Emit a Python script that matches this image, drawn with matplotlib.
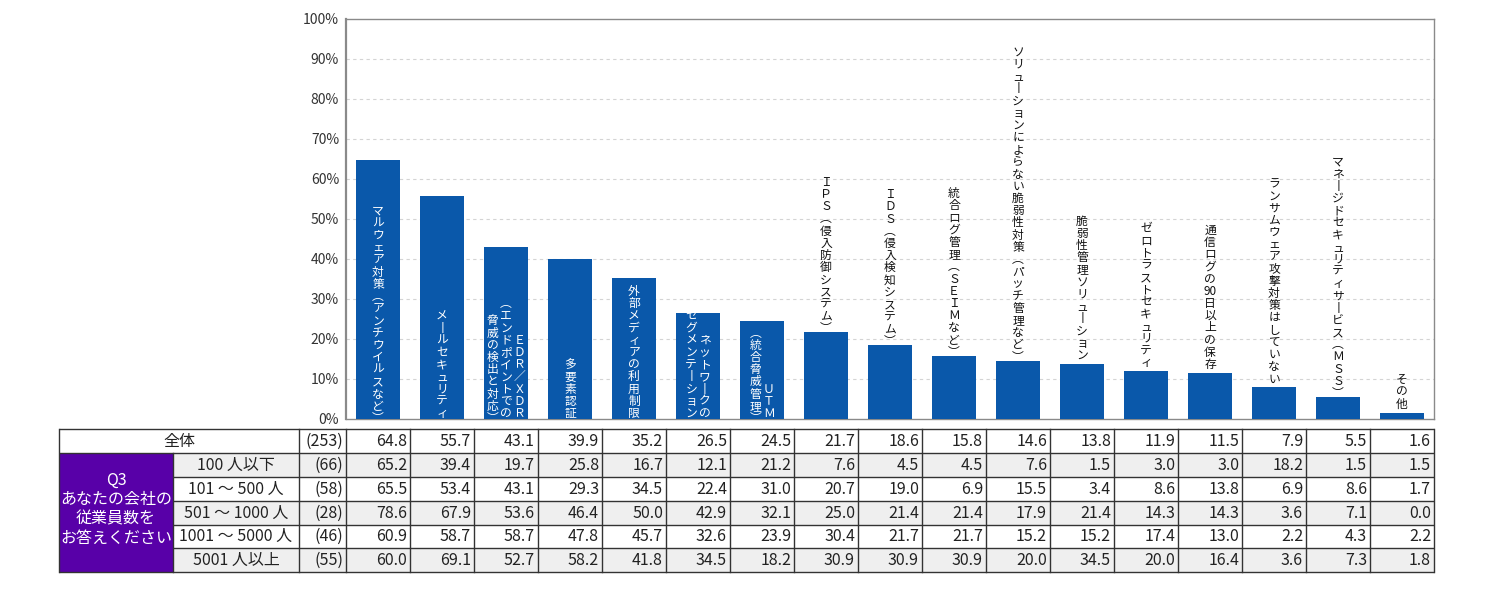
import matplotlib
matplotlib.use("Agg")
import matplotlib.pyplot as plt
from matplotlib.transforms import offset_copy
from matplotlib.patches import Rectangle

plt.rcParams['font.family'] = ['Noto Sans CJK JP', 'DejaVu Sans']

# ---------------- data ----------------
categories = [
    ["マルウェア対策(アンチウイルスなど)"],
    ["メールセキュリティ"],
    ["EDR/XDR", "(エンドポイントでの", "脅威の検出と対応)"],
    ["多要素認証"],
    ["外部メディアの利用制限"],
    ["ネットワークの", "セグメンテーション"],
    ["UTM", "(統合脅威管理)"],
    ["IPS(侵入防御システム)"],
    ["IDS(侵入検知システム)"],
    ["統合ログ管理(SEIMなど)"],
    ["ソリューションによらない脆弱性対策(パッチ管理など)"],
    ["脆弱性管理ソリューション"],
    ["ゼロトラストセキュリティ"],
    ["通信ログの90日以上の保存"],
    ["ランサムウェア攻撃対策はしていない"],
    ["マネージドセキュリティサービス(MSS)"],
    ["その他"],
]
total = [64.8, 55.7, 43.1, 39.9, 35.2, 26.5, 24.5, 21.7, 18.6, 15.8, 14.6, 13.8, 11.9, 11.5, 7.9, 5.5, 1.6]
size_le100 = [65.2, 39.4, 19.7, 25.8, 16.7, 12.1, 21.2, 7.6, 4.5, 4.5, 7.6, 1.5, 3.0, 3.0, 18.2, 1.5, 1.5]
size_101_500 = [65.5, 53.4, 43.1, 29.3, 34.5, 22.4, 31.0, 20.7, 19.0, 6.9, 15.5, 3.4, 8.6, 13.8, 6.9, 8.6, 1.7]
size_501_1000 = [78.6, 67.9, 53.6, 46.4, 50.0, 42.9, 32.1, 25.0, 21.4, 21.4, 17.9, 21.4, 14.3, 14.3, 3.6, 7.1, 0.0]
size_1001_5000 = [60.9, 58.7, 58.7, 47.8, 45.7, 32.6, 23.9, 30.4, 21.7, 21.7, 15.2, 15.2, 17.4, 13.0, 2.2, 4.3, 2.2]
size_5001 = [60.0, 69.1, 52.7, 58.2, 41.8, 34.5, 18.2, 30.9, 30.9, 30.9, 20.0, 34.5, 20.0, 16.4, 3.6, 7.3, 1.8]
row_labels = ["全体", "100 人以下", "101 ～ 500 人", "501 ～ 1000 人", "1001 ～ 5000 人", "5001 人以上"]
row_n = [253, 66, 58, 28, 46, 55]
question_lines = ["Q3", "あなたの会社の", "従業員数を", "お答えください"]
yticks = [0, 10, 20, 30, 40, 50, 60, 70, 80, 90, 100]

table_rows = [total, size_le100, size_101_500, size_501_1000, size_1001_5000, size_5001]

# ---------------- styles ----------------
BAR = '#0a58aa'
PURPLE = '#5800a8'
GRAYROW = '#efefef'
LINE = '#333333'
TXT = '#222222'
W, H = 1500, 600

fig = plt.figure(figsize=(15, 6), dpi=100)
fig.patch.set_facecolor('white')

ax_l, ax_r, ax_t, ax_b = 346, 1434, 19, 419
ax = fig.add_axes([ax_l / W, 1 - ax_b / H, (ax_r - ax_l) / W, (ax_b - ax_t) / H])
x = list(range(len(total)))
ax.bar(x, total, width=0.69, color=BAR, zorder=3)
ax.set_xlim(-0.5, len(total) - 0.5)
ax.set_ylim(0, 100)
ax.set_yticks(yticks)
ax.set_yticklabels([f"{t}%" for t in yticks], fontsize=10, color='#333333')
ax.tick_params(axis='y', length=0, pad=5)
ax.set_xticks([])
for t in yticks[1:-1]:
    ax.axhline(t, color='#d4d4d4', lw=0.8, ls=(0, (3, 3)), zorder=1)
for s in ax.spines.values():
    s.set_color('#8a8a8a')
    s.set_linewidth(1.0)
ax.spines['left'].set_linewidth(1.6)

# ---------------- vertical (tategaki) labels ----------------
FW = {c: chr(ord(c) + 0xFEE0) for c in "ABCDEFGHIJKLMNOPQRSTUVWXYZ/"}


def vertical(s):
    out = []
    i = 0
    while i < len(s):
        c = s[i]
        if c.isdigit() and c.isascii():
            j = i
            while j < len(s) and s[j].isdigit() and s[j].isascii():
                j += 1
            out.append(s[i:j])
            i = j
            continue
        if c == '(':
            out.append('︵')
        elif c == ')':
            out.append('︶')
        elif c == 'ー':
            out.append('丨')
        elif c in FW:
            out.append(FW[c])
        else:
            out.append(c)
        i += 1
    return "\n".join(out)


COLGAP = 13.5
FS = 8.5
LS = 0.92
for i, (cols, v) in enumerate(zip(categories, total)):
    inside = v >= 24
    base_val = 0 if inside else v
    color = 'white' if inside else '#111111'
    ncol = len(cols)
    for j, col in enumerate(cols):
        dx_col = ((ncol - 1) / 2 - j) * COLGAP
        off = -1 if inside else 2
        if col.endswith(')'):
            off -= 5
        tr = offset_copy(ax.transData, fig=fig, x=dx_col, y=off, units='dots')
        ax.text(i, base_val, vertical(col), transform=tr, ha='center', va='bottom',
                multialignment='center', linespacing=LS,
                fontsize=FS, color=color, zorder=5, clip_on=False)

# ---------------- table ----------------
tab = fig.add_axes([0, 0, 1, 1], zorder=-1)
tab.set_xlim(0, W)
tab.set_ylim(H, 0)
tab.axis('off')

fig.canvas.draw()
inv = fig.dpi / 100.0
col_edges = [ax.transData.transform((k - 0.5, 0))[0] / inv for k in range(len(total) + 1)]

xA, xB, xC = 59, 173, 299
xD = col_edges[0]
xR = col_edges[-1]
row_y = [429, 453, 477, 501, 524.5, 548, 572]

# backgrounds
for r in range(1, 6):
    if r % 2 == 1:
        tab.add_patch(Rectangle((xB, row_y[r]), xR - xB, row_y[r + 1] - row_y[r],
                                facecolor=GRAYROW, edgecolor='none'))
tab.add_patch(Rectangle((xA, row_y[1]), xB - xA, row_y[6] - row_y[1],
                        facecolor=PURPLE, edgecolor='none'))

# lines
lw = 1.0
for r, yy in enumerate(row_y):
    x0 = xA if r in (0, 1, 6) else xB
    tab.plot([x0, xR], [yy, yy], color=LINE, lw=lw, solid_capstyle='butt')
tab.plot([xA, xA], [row_y[0], row_y[6]], color=LINE, lw=lw)
tab.plot([xB, xB], [row_y[1], row_y[6]], color=LINE, lw=lw)
for xx in [xC] + col_edges:
    tab.plot([xx, xx], [row_y[0], row_y[6]], color=LINE, lw=lw)

TFS = 11.5
for r in range(6):
    yc = (row_y[r] + row_y[r + 1]) / 2 + 0.5
    if r == 0:
        tab.text((xA + xC) / 2, yc, row_labels[r], ha='center', va='center', fontsize=TFS, color=TXT)
    else:
        tab.text((xB + xC) / 2, yc, row_labels[r], ha='center', va='center', fontsize=TFS, color=TXT)
    tab.text(xD - 3, yc, f"({row_n[r]})", ha='right', va='center', fontsize=TFS, color=TXT)
    for k, val in enumerate(table_rows[r]):
        tab.text(col_edges[k + 1] - 3, yc, f"{val:.1f}", ha='right', va='center', fontsize=TFS, color=TXT)

q_y = [480, 499.5, 519, 538.5]
for line, yy in zip(question_lines, q_y):
    tab.text((xA + xB) / 2, yy, line, ha='center', va='center', fontsize=TFS, color='white')

fig.savefig('out.png', dpi=100, facecolor='white')
